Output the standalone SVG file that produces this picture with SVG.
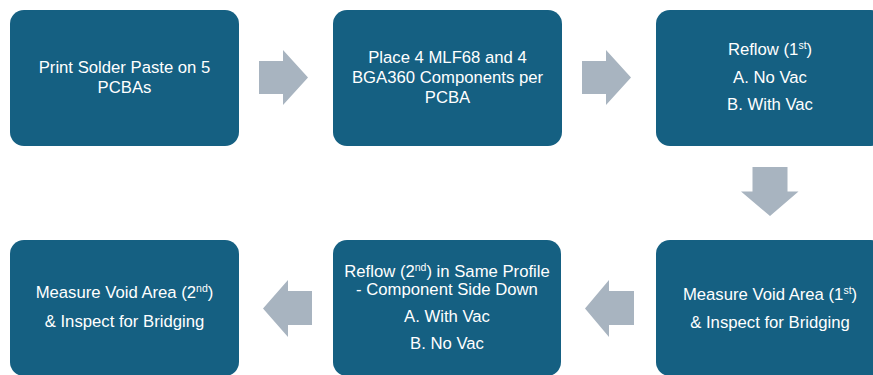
<svg xmlns="http://www.w3.org/2000/svg" width="873" height="375" viewBox="0 0 873 375">
<style>
.box{fill:#156082;}
.arr{fill:#a8b4c0;}
text{font-family:"Liberation Sans","Open Sans",sans-serif;font-size:16.7px;fill:#ffffff;text-anchor:middle;}
.sup{font-size:10.5px;}
</style>
<rect width="873" height="375" fill="#ffffff"/>
<g id="n1"><rect class="box" x="10" y="10" width="229" height="136" rx="14"/>
<text x="124.5" y="73">Print Solder Paste on 5</text>
<text x="124.5" y="93">PCBAs</text></g>
<g id="n2"><rect class="box" x="333" y="10" width="229" height="136" rx="14"/>
<text x="447.5" y="63">Place 4 MLF68 and 4</text>
<text x="447.5" y="83">BGA360 Components per</text>
<text x="447.5" y="103">PCBA</text></g>
<g id="n3"><rect class="box" x="656" y="10" width="229" height="136" rx="14"/>
<text x="770" y="55">Reflow (1<tspan class="sup" dy="-6">st</tspan><tspan dy="6">)</tspan></text>
<text x="770" y="83">A. No Vac</text>
<text x="770" y="110">B. With Vac</text></g>
<g id="n4"><rect class="box" x="656" y="240" width="229" height="136" rx="14"/>
<text x="770" y="300">Measure Void Area (1<tspan class="sup" dy="-6">st</tspan><tspan dy="6">)</tspan></text>
<text x="770" y="328">&amp; Inspect for Bridging</text></g>
<g id="n5"><rect class="box" x="333" y="240" width="228" height="136" rx="14"/>
<text x="447" y="277">Reflow (2<tspan class="sup" dy="-6">nd</tspan><tspan dy="6">) in Same Profile</tspan></text>
<text x="447" y="295">- Component Side Down</text>
<text x="447" y="322">A. With Vac</text>
<text x="447" y="349">B. No Vac</text></g>
<g id="n6"><rect class="box" x="10" y="240" width="229" height="136" rx="14"/>
<text x="124.5" y="298">Measure Void Area (2<tspan class="sup" dy="-6">nd</tspan><tspan dy="6">)</tspan></text>
<text x="124.5" y="327">&amp; Inspect for Bridging</text></g>
<g id="connectors">
<polygon class="arr" points="259,61 283,61 283,50 308,77.5 283,105 283,94 259,94"/>
<polygon class="arr" points="582,61 606,61 606,50 631,77.5 606,105 606,94 582,94"/>
<polygon class="arr" points="752.5,167 787.5,167 787.5,191.5 798.5,191.5 770,216 741,191.5 752.5,191.5"/>
<polygon class="arr" points="634,291 609,291 609,280 585,308.5 609,337 609,325 634,325"/>
<polygon class="arr" points="312,291 288,291 288,280 263,308.5 288,337 288,325 312,325"/>
</g>
</svg>
